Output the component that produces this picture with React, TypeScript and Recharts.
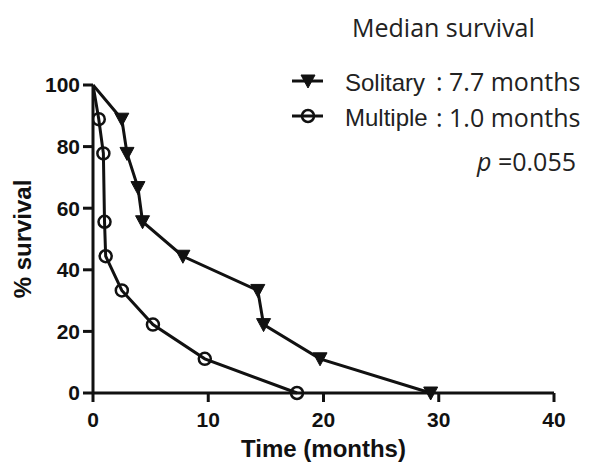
import { Line, LineChart, XAxis, YAxis } from "recharts"

// Kaplan-Meier points (time in months, % survival)
const solitaryTime = [0, 2.5, 2.95, 3.9, 4.3, 7.8, 14.3, 14.8, 19.7, 29.3]
const solitarySurvival = [100, 88.9, 77.8, 66.7, 55.6, 44.4, 33.3, 22.2, 11.1, 0]
const multipleTime = [0, 0.5, 0.9, 1.0, 1.1, 2.5, 5.2, 9.7, 17.7]
const multipleSurvival = [100, 88.9, 77.8, 55.6, 44.4, 33.3, 22.2, 11.1, 0]

const xTicks = [0, 10, 20, 30, 40]
const yTicks = [0, 20, 40, 60, 80, 100]

const solitary = solitaryTime.map((t, i) => ({ t, s: solitarySurvival[i] }))
const multiple = multipleTime.map((t, i) => ({ t, s: multipleSurvival[i] }))

const INK = "#111"
const AXIS_FONT = "'Liberation Sans', Arial, sans-serif"
const NOTE_FONT = "'Open Sans', 'Noto Sans', sans-serif"

const tickStyle = { fill: INK, fontFamily: AXIS_FONT, fontWeight: 700, fontSize: 21 }

function Triangle({ cx, cy }: { cx: number; cy: number }) {
  return (
    <path
      d={`M${cx - 7},${cy - 6} L${cx + 7},${cy - 6} L${cx},${cy + 7} Z`}
      fill={INK}
      stroke={INK}
      strokeWidth={1}
    />
  )
}

function Ring({ cx, cy }: { cx: number; cy: number }) {
  return <circle cx={cx} cy={cy} r={6} fill="none" stroke={INK} strokeWidth={2.5} />
}

// first point (time 0) carries no symbol
const triangleDot = (p: any) =>
  p.index === 0 ? <g key={p.key} /> : <Triangle key={p.key} cx={p.cx} cy={p.cy} />
const ringDot = (p: any) =>
  p.index === 0 ? <g key={p.key} /> : <Ring key={p.key} cx={p.cx} cy={p.cy} />

function Notes() {
  return (
    <svg
      width={590}
      height={200}
      style={{ position: "absolute", left: 0, top: 0, pointerEvents: "none" }}
    >
      <text x={352} y={37} fontFamily={NOTE_FONT} fontSize={25} fill="#222">
        Median survival
      </text>

      <line x1={292} x2={323} y1={81} y2={81} stroke={INK} strokeWidth={3} />
      <Triangle cx={308} cy={81} />
      <text x={345} y={91} fontFamily={AXIS_FONT} fontSize={24} fill="#222">
        Solitary
      </text>
      <text x={436} y={91} fontFamily={NOTE_FONT} fontSize={25} fill="#222">
        : 7.7 months
      </text>

      <line x1={292} x2={323} y1={116} y2={116} stroke={INK} strokeWidth={3} />
      <Ring cx={308} cy={116} />
      <text x={345} y={126} fontFamily={AXIS_FONT} fontSize={24} fill="#222">
        Multiple
      </text>
      <text x={436} y={127} fontFamily={NOTE_FONT} fontSize={25} fill="#222">
        : 1.0 months
      </text>

      <text x={477} y={171} fontFamily={NOTE_FONT} fontSize={25} fill="#222">
        <tspan fontStyle="italic">p</tspan> =0.055
      </text>
    </svg>
  )
}

export default function App() {
  return (
    <div
      style={{
        position: "absolute",
        left: 0,
        top: 0,
        width: 590,
        height: 463,
        overflow: "hidden",
        background: "#fff",
      }}
    >
      <LineChart width={590} height={463} margin={{ top: 85, right: 36, bottom: 0, left: 0 }}>
        <XAxis
          type="number"
          dataKey="t"
          domain={[0, 40]}
          ticks={xTicks}
          allowDataOverflow
          height={70}
          tickSize={9}
          tickMargin={10}
          tick={tickStyle}
          axisLine={{ stroke: INK, strokeWidth: 3 }}
          tickLine={{ stroke: INK, strokeWidth: 3 }}
          label={{
            content: ({ viewBox }: any) => (
              <text
                x={viewBox.x + viewBox.width / 2}
                y={viewBox.y + 64}
                textAnchor="middle"
                fontFamily={AXIS_FONT}
                fontWeight={700}
                fontSize={24}
                fill={INK}
              >
                Time (months)
              </text>
            ),
          }}
        />
        <YAxis
          type="number"
          domain={[0, 100]}
          ticks={yTicks}
          width={93}
          tickSize={10}
          tickMargin={3}
          tick={tickStyle}
          axisLine={{ stroke: INK, strokeWidth: 3 }}
          tickLine={{ stroke: INK, strokeWidth: 3 }}
          label={{
            content: ({ viewBox }: any) => {
              const cy = viewBox.y + viewBox.height / 2
              return (
                <text
                  x={31}
                  y={cy}
                  transform={`rotate(-90, 31, ${cy})`}
                  textAnchor="middle"
                  fontFamily={AXIS_FONT}
                  fontWeight={700}
                  fontSize={24}
                  fill={INK}
                >
                  % survival
                </text>
              )
            },
          }}
        />
        <Line
          data={solitary}
          dataKey="s"
          type="linear"
          stroke={INK}
          strokeWidth={3}
          dot={triangleDot}
          activeDot={false}
          isAnimationActive={false}
        />
        <Line
          data={multiple}
          dataKey="s"
          type="linear"
          stroke={INK}
          strokeWidth={3}
          dot={ringDot}
          activeDot={false}
          isAnimationActive={false}
        />
      </LineChart>
      <Notes />
    </div>
  )
}
